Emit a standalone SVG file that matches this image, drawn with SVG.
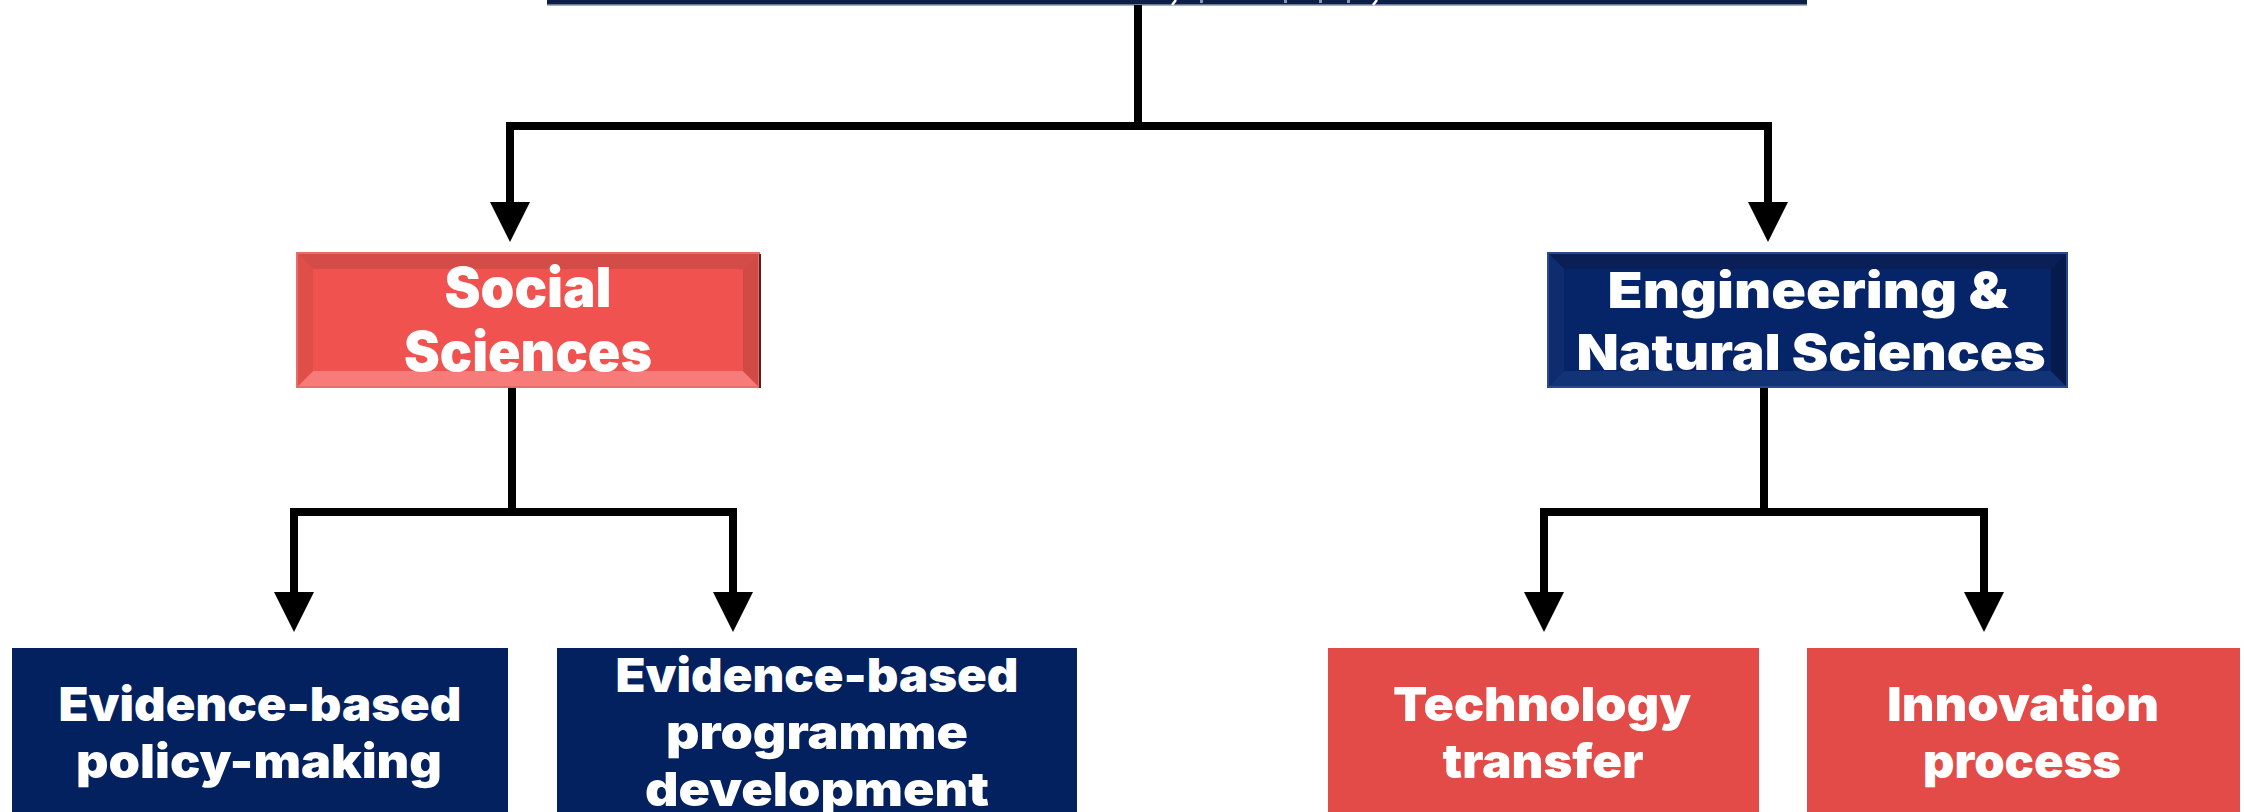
<svg xmlns="http://www.w3.org/2000/svg" xmlns:xlink="http://www.w3.org/1999/xlink" width="2244" height="812" viewBox="0 0 2244 812">
<style>
.lbl{font-family:Inter,"Noto Sans","DejaVu Sans",sans-serif;font-weight:900;fill:#ffffff;text-anchor:middle}
.s47{font-size:47px}
.conn{fill:none;stroke:#000000;stroke-width:8;stroke-linejoin:miter;stroke-linecap:butt}
.navy{fill:#03205F}
.red{fill:#E24B47}
</style>
<defs>
<path id="ah" d="M-20,0 L20,0 L0,40 Z" fill="#000000"/>
</defs>
<rect width="2244" height="812" fill="#ffffff"/>

<g id="top-node">
<rect x="547" y="-60" width="1260" height="65" fill="#0D1E47"/>
<line x1="547" y1="5" x2="1807" y2="5" stroke="#8A96B0" stroke-width="1.5"/>
<line x1="1176" y1="0" x2="1172" y2="5" stroke="#ffffff" stroke-width="2.5"/>
<line x1="1377" y1="0" x2="1373" y2="5" stroke="#ffffff" stroke-width="2.5"/>
<rect x="1200" y="0" width="3" height="3" fill="#8A96B0"/>
<rect x="1284" y="0" width="3" height="3" fill="#8A96B0"/>
<rect x="1319" y="0" width="3" height="3" fill="#8A96B0"/>
<rect x="1347" y="0" width="3" height="3" fill="#8A96B0"/>
</g>

<g id="connectors">
<path class="conn" d="M1138,5 V126"/>
<path class="conn" d="M510,203 V126 H1768 V203"/>
<use xlink:href="#ah" x="510" y="202"/>
<use xlink:href="#ah" x="1768" y="202"/>
<path class="conn" d="M512,387 V512"/>
<path class="conn" d="M294,593 V512 H733 V593"/>
<use xlink:href="#ah" x="294" y="592"/>
<use xlink:href="#ah" x="733" y="592"/>
<path class="conn" d="M1764,387 V512"/>
<path class="conn" d="M1544,593 V512 H1984 V593"/>
<use xlink:href="#ah" x="1544" y="592"/>
<use xlink:href="#ah" x="1984" y="592"/>
</g>

<g id="social-sciences">
<rect x="297" y="253" width="462" height="134" fill="#F0524F"/>
<polygon points="297,253 759,253 743,269 313,269" fill="#D44C48"/>
<polygon points="297,387 759,387 743,371 313,371" fill="#F77C79"/>
<polygon points="297,253 313,269 313,371 297,387" fill="#E04E4A"/>
<polygon points="759,253 743,269 743,371 759,387" fill="#D04A46"/>
<rect x="297" y="253" width="462" height="134" fill="none" stroke="#E86C69" stroke-width="2"/>
<line x1="760" y1="254" x2="760" y2="388" stroke="#5A1E1C" stroke-width="2"/>
<text class="lbl" x="528" y="307" font-size="55" textLength="167" lengthAdjust="spacingAndGlyphs">Social</text>
<text class="lbl" x="528" y="371" font-size="55" textLength="248" lengthAdjust="spacingAndGlyphs">Sciences</text>
</g>

<g id="engineering-natural-sciences">
<rect x="1548" y="253" width="519" height="134" fill="#062468"/>
<polygon points="1548,253 2067,253 2051,269 1564,269" fill="#0A1F55"/>
<polygon points="1548,387 2067,387 2051,371 1564,371" fill="#123375"/>
<polygon points="1548,253 1564,269 1564,371 1548,387" fill="#0E2C6E"/>
<polygon points="2067,253 2051,269 2051,371 2067,387" fill="#061A4C"/>
<rect x="1548" y="253" width="519" height="134" fill="none" stroke="#2A4A8C" stroke-width="2"/>
<text class="lbl" x="1808" y="308" font-size="50" textLength="401" lengthAdjust="spacingAndGlyphs">Engineering &amp;</text>
<text class="lbl" x="1811" y="370" font-size="50" textLength="469" lengthAdjust="spacingAndGlyphs">Natural Sciences</text>
</g>

<g id="policy-making">
<rect class="navy" x="12" y="648" width="496" height="170"/>
<text class="lbl s47" x="260" y="721" textLength="403" lengthAdjust="spacingAndGlyphs">Evidence-based</text>
<text class="lbl s47" x="259" y="778" textLength="366" lengthAdjust="spacingAndGlyphs">policy-making</text>
</g>

<g id="programme-development">
<rect class="navy" x="557" y="648" width="520" height="170"/>
<text class="lbl s47" x="817" y="692" textLength="403" lengthAdjust="spacingAndGlyphs">Evidence-based</text>
<text class="lbl s47" x="817" y="749" textLength="302" lengthAdjust="spacingAndGlyphs">programme</text>
<text class="lbl s47" x="817" y="806" textLength="344" lengthAdjust="spacingAndGlyphs">development</text>
</g>

<g id="technology-transfer">
<rect class="red" x="1328" y="648" width="431" height="170"/>
<text class="lbl s47" x="1542" y="721" textLength="298" lengthAdjust="spacingAndGlyphs">Technology</text>
<text class="lbl s47" x="1543" y="778" textLength="201" lengthAdjust="spacingAndGlyphs">transfer</text>
</g>

<g id="innovation-process">
<rect class="red" x="1807" y="648" width="433" height="170"/>
<text class="lbl s47" x="2023" y="721" textLength="272" lengthAdjust="spacingAndGlyphs">Innovation</text>
<text class="lbl s47" x="2022" y="778" textLength="198" lengthAdjust="spacingAndGlyphs">process</text>
</g>
</svg>
